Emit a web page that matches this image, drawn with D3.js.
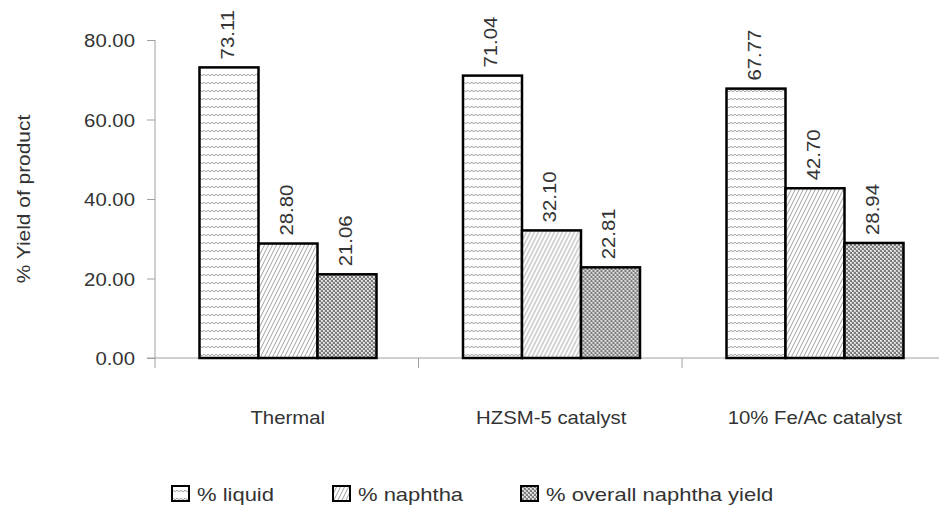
<!DOCTYPE html>
<html>
<head>
<meta charset="utf-8">
<script src="https://cdn.jsdelivr.net/npm/d3@7"></script>
<style>
  html, body { margin: 0; padding: 0; background: #fff; }
  svg { display: block; font-family: "Liberation Sans", Arial, sans-serif; }
</style>
</head>
<body>
<svg id="chart" width="939" height="511"></svg>
<script>
// Yield of products for each process
const categories = ["Thermal", "HZSM-5 catalyst", "10% Fe/Ac catalyst"];
const seriesNames = ["% liquid", "% naphtha", "% overall naphtha yield"];
const liquid = [73.11, 71.04, 67.77];
const naphtha = [28.80, 32.10, 42.70];
const overallNaphtha = [21.06, 22.81, 28.94];
const yTicks = [0, 20, 40, 60, 80];

const seriesValues = [liquid, naphtha, overallNaphtha];

const svg = d3.select("#chart");
const margin = { left: 155, right: -7, top: 40, bottom: 153 };
const W = 939, H = 511;
const plotW = W - margin.left - margin.right;
const plotH = H - margin.top - margin.bottom;
const textColor = "#333";
const fontSize = 18.5;
const widen = 1.1; // slightly extended letterforms

// Hatch patterns for the three series
const defs = svg.append("defs");

// horizontal dotted bands
const p1 = defs.append("pattern").attr("id", "pat-liquid")
  .attr("patternUnits", "userSpaceOnUse").attr("width", 4).attr("height", 8);
p1.append("rect").attr("width", 4).attr("height", 8).attr("fill", "#fff");
p1.append("rect").attr("x", 0).attr("y", 2).attr("width", 2).attr("height", 1).attr("fill", "#b0b0b0");
p1.append("rect").attr("x", 2).attr("y", 3).attr("width", 2).attr("height", 1).attr("fill", "#b0b0b0");
p1.append("rect").attr("x", 2).attr("y", 2).attr("width", 1).attr("height", 1).attr("fill", "#e0e0e0");
p1.append("rect").attr("x", 0).attr("y", 3).attr("width", 1).attr("height", 1).attr("fill", "#e0e0e0");

// steep diagonal hatch
const p2 = defs.append("pattern").attr("id", "pat-naphtha")
  .attr("patternUnits", "userSpaceOnUse").attr("width", 4).attr("height", 8);
p2.append("rect").attr("width", 4).attr("height", 8).attr("fill", "#fff");
p2.append("path").attr("d", "M0,8 L4,0 M-1,2 L0,0 M4,8 L5,6")
  .attr("stroke", "#a0a0a0").attr("stroke-width", 1);

// dense checker
const p3 = defs.append("pattern").attr("id", "pat-overall")
  .attr("patternUnits", "userSpaceOnUse").attr("width", 4).attr("height", 4);
p3.append("rect").attr("width", 4).attr("height", 4).attr("fill", "#cfcfcf");
p3.append("rect").attr("x", 0).attr("y", 0).attr("width", 2).attr("height", 2).attr("fill", "#7c7c7c");
p3.append("rect").attr("x", 2).attr("y", 2).attr("width", 2).attr("height", 2).attr("fill", "#7c7c7c");
p3.append("rect").attr("x", 2).attr("y", 0).attr("width", 1).attr("height", 1).attr("fill", "#f2f2f2");
p3.append("rect").attr("x", 0).attr("y", 2).attr("width", 1).attr("height", 1).attr("fill", "#f2f2f2");

const fills = ["url(#pat-liquid)", "url(#pat-naphtha)", "url(#pat-overall)"];

const x0 = d3.scaleBand().domain(categories).range([0, 263.5 * 3]).paddingInner(0).paddingOuter(0);
const x1 = d3.scaleBand().domain(d3.range(seriesNames.length)).range([44.5, 263.5 - 42]).padding(0);
const y = d3.scaleLinear().domain([0, 80]).range([plotH, 0]);

const g = svg.append("g").attr("transform", `translate(${margin.left},${margin.top})`);

// Y axis
const yAxis = g.append("g").call(d3.axisLeft(y).tickValues(yTicks).tickSize(8).tickPadding(12)
  .tickFormat(d3.format(".2f")));
yAxis.attr("font-family", null);
yAxis.select(".domain").attr("stroke", "#a0a0a0").attr("d", `M0,${plotH}V0`);
yAxis.selectAll(".tick line").attr("stroke", "#a0a0a0");
yAxis.selectAll(".tick text").attr("font-size", fontSize).attr("fill", textColor).attr("dy", "0.36em");

// X axis
const xAxisG = g.append("g").attr("transform", `translate(0,${plotH})`);
xAxisG.append("line").attr("x1", -8).attr("x2", plotW + 10).attr("y1", 0).attr("y2", 0)
  .attr("stroke", "#a0a0a0");
const boundaries = d3.range(categories.length + 1).map(i => i * x0.step());
xAxisG.selectAll(".xtick").data(boundaries).join("line")
  .attr("x1", d => d).attr("x2", d => d).attr("y1", 0).attr("y2", 10)
  .attr("stroke", "#a0a0a0");
xAxisG.selectAll(".xlabel").data(categories).join("text")
  .attr("x", d => x0(d) + x0.bandwidth() / 2 + 1)
  .attr("y", 66)
  .attr("text-anchor", "middle")
  .attr("font-size", fontSize).attr("fill", textColor)
  .text(d => d);

// Y axis title
svg.append("text")
  .attr("transform", `translate(30,${margin.top + 159}) rotate(-90)`)
  .attr("text-anchor", "middle")
  .attr("font-size", 19).attr("fill", textColor)
  .text("% Yield of product");

// Bars
const groups = g.selectAll(".grp").data(categories).join("g")
  .attr("transform", d => `translate(${x0(d)},0)`);

groups.each(function (cat, ci) {
  const grp = d3.select(this);
  seriesValues.forEach((vals, si) => {
    const v = vals[ci];
    grp.append("rect")
      .attr("x", x1(si)).attr("y", y(v))
      .attr("width", x1.bandwidth()).attr("height", plotH - y(v))
      .attr("fill", fills[si])
      .attr("stroke", "#000").attr("stroke-width", 2.5);
    const lx = x1(si) + x1.bandwidth() / 2 + 4.5;
    const ly = y(v) - 8;
    grp.append("text")
      .attr("transform", `translate(${lx},${ly}) rotate(-90)`)
      .attr("font-size", fontSize).attr("fill", textColor)
      .text(d3.format(".2f")(v));
  });
});

// Legend
const legendX = [172, 333, 521];
const legend = svg.append("g").attr("class", "legend");
seriesNames.forEach((name, i) => {
  legend.append("rect")
    .attr("x", legendX[i]).attr("y", 486).attr("width", 17).attr("height", 15)
    .attr("fill", fills[i]).attr("stroke", "#000").attr("stroke-width", 2);
  legend.append("text")
    .attr("x", legendX[i] + 25).attr("y", 501)
    .attr("font-size", fontSize).attr("fill", textColor)
    .text(name);
});

// Widen every label a little; legend entries a bit more
svg.selectAll("text").each(function () {
  const len = this.getComputedTextLength();
  const k = this.parentNode.classList.contains("legend") ? widen * 1.08 : widen;
  d3.select(this).attr("textLength", len * k).attr("lengthAdjust", "spacingAndGlyphs");
});
</script>
</body>
</html>
